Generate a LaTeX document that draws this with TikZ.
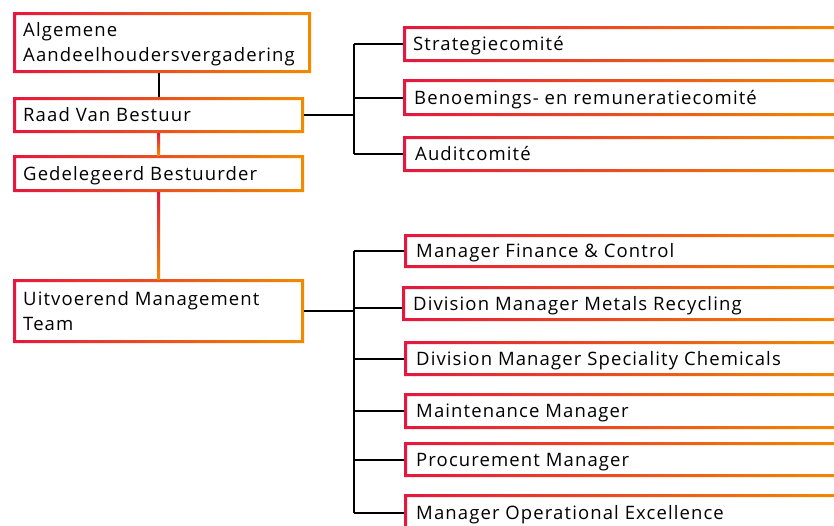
\documentclass[tikz,border=0pt]{standalone}
\usepackage{fontspec}
\setmainfont{Open Sans}[LetterSpace=6]
\usetikzlibrary{fit}
\definecolor{cR}{HTML}{E5173F}
\definecolor{cO}{HTML}{F18A00}
\tikzset{
  boxarea/.style={inner sep=0pt, outer sep=0pt},
  txt/.style={anchor=base west, inner sep=0pt, align=left, font=\fontsize{18.5}{25}\selectfont},
  conn/.style={draw=black, line width=2pt},
}
\newcommand\mkbox[5]{%
  \coordinate (#1nw) at (#2,#3); \coordinate (#1se) at (#4,#5);
  \node[boxarea, fit=(#1nw)(#1se)] (#1) {};
  \shade[left color=cR, right color=cO, even odd rule]
    (#1.south west) rectangle (#1.north east)
    ([shift={(3pt,3pt)}]#1.south west) rectangle ([shift={(-3pt,-3pt)}]#1.north east);}
\begin{document}
\begin{tikzpicture}[x=1pt,y=-1pt]
\clip (0,0) rectangle (834,525);
\fill[white] (0,0) rectangle (834,525);
% left column
\mkbox{A}{13}{12}{311}{73}
\mkbox{B}{13}{97}{304}{133}
\mkbox{C}{13}{155}{304}{192}
\mkbox{D}{13}{279}{304}{343}
% committees
\mkbox{S1}{403}{26}{845}{62}
\mkbox{S2}{403}{79}{845}{116}
\mkbox{S3}{403}{136}{845}{172}
% management
\mkbox{M1}{404}{234}{845}{268}
\mkbox{M2}{402}{286}{845}{321}
\mkbox{M3}{404}{341}{845}{376}
\mkbox{M4}{404}{393}{845}{429}
\mkbox{M5}{404}{442}{845}{477}
\mkbox{M6}{404}{494}{845}{531}
% texts
\node[txt] (tA) at (23,61.5) {Algemene\\Aandeelhoudersvergadering};
\node[txt] (tB) at (23,121) {Raad Van Bestuur};
\node[txt] (tC) at (23,180) {Gedelegeerd Bestuurder};
\node[txt] (tD) at (23,330) {Uitvoerend Management\\Team};
\node[txt] (tS1) at (413,50.5) {Strategiecomité};
\node[txt] (tS2) at (414,104) {Benoemings- en remuneratiecomité};
\node[txt] (tS3) at (415,160.5) {Auditcomité};
\node[txt] (tM1) at (416,257.5) {Manager Finance \& Control};
\node[txt] (tM2) at (413,310) {Division Manager Metals Recycling};
\node[txt] (tM3) at (416,365) {Division Manager Speciality Chemicals};
\node[txt] (tM4) at (416,417.5) {Maintenance Manager};
\node[txt] (tM5) at (416,466) {Procurement Manager};
\node[txt] (tM6) at (416,519) {Manager Operational Excellence};
% connectors
\draw[conn] (A.south -| B.north) -- (B.north);
\shade[top color=cR, bottom color=cO] ([xshift=-1.5pt]B.south) rectangle ([xshift=1.5pt]C.north);
\shade[top color=cR, bottom color=cO] ([xshift=-1.5pt]C.south) rectangle ([xshift=1.5pt]D.north);
\coordinate (j1) at (354,115);
\draw[conn] (B.east) -- (j1);
\draw[conn] (j1 |- S1.west) -- (j1 |- S3.west);
\foreach \s in {S1,S2,S3} \draw[conn] (j1 |- \s.west) -- (\s.west);
\coordinate (j2) at (354,311);
\draw[conn] (D.east) -- (j2);
\draw[conn] (j2 |- M1.west) -- (j2 |- M6.west);
\foreach \s in {M1,M3,M4,M5,M6} \draw[conn] (j2 |- \s.west) -- (\s.west);
\draw[conn] ([yshift=-4pt]j2 |- M2.west) -- ([yshift=-4pt]M2.west);
\end{tikzpicture}
\end{document}
